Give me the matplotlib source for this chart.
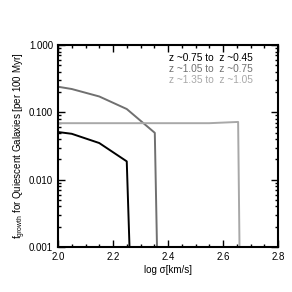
import numpy as np
import matplotlib
matplotlib.use("Agg")
from matplotlib import pyplot as plt
from matplotlib.ticker import MultipleLocator, FixedLocator, LogLocator, NullFormatter

# data
x_a = [2.0, 2.05, 2.15, 2.25, 2.26]
y_a = [0.051, 0.048, 0.035, 0.0187, 0.001]
x_b = [2.0, 2.05, 2.15, 2.25, 2.352, 2.36]
y_b = [0.24, 0.222, 0.172, 0.112, 0.0496, 0.001]
x_c = [2.0, 2.55, 2.655, 2.66]
y_c = [0.069, 0.069, 0.072, 0.001]

labels = ["z ~0.75 to  z ~0.45", "z ~1.05 to  z ~0.75", "z ~1.35 to  z ~1.05"]
colors = ["#000000", "#707070", "#a8a8a8"]
yticks = [0.001, 0.01, 0.1, 1.0]
ytick_labels = ["0.001", "0.010", "0.100", "1.000"]

plt.rcParams['font.family'] = ['Liberation Sans', 'DejaVu Sans']
fig = plt.figure(figsize=(2.92, 2.92), dpi=100)
ax = fig.add_axes([58/292, 45/292, 220/292, 202/292])

ax.plot(x_a, y_a, color=colors[0], lw=1.4)
ax.plot(x_b, y_b, color=colors[1], lw=1.4)
ax.plot(x_c, y_c, color=colors[2], lw=1.4)

ax.set_yscale("log")
ax.set_xlim(2.0, 2.8)
ax.set_ylim(0.001, 1.0)
ax.xaxis.set_major_locator(MultipleLocator(0.2))
ax.xaxis.set_minor_locator(MultipleLocator(0.05))
ax.yaxis.set_major_locator(FixedLocator(yticks))
ax.set_yticklabels(ytick_labels)
ax.yaxis.set_minor_locator(LogLocator(base=10, subs=np.arange(2, 10)))
ax.yaxis.set_minor_formatter(NullFormatter())
ax.tick_params(which="both", direction="in", top=True, right=True, labelsize=7, width=1)
ax.tick_params(which="major", length=5)
ax.tick_params(which="minor", length=2.5)
for s in ax.spines.values():
    s.set_linewidth(1.5)

ax.set_xlabel("log σ[km/s]", fontsize=7, labelpad=2)
ax.set_ylabel("f$_{\\mathregular{growth}}$ for Quiescent Galaxies [per 100 Myr]", fontsize=7, labelpad=1)

for i, lab in enumerate(labels):
    ax.text(0.885, 0.936 - i * 0.054, lab, transform=ax.transAxes, ha="right", va="center",
            fontsize=7.3, color=colors[i])

fig.savefig("out.png", dpi=100)
